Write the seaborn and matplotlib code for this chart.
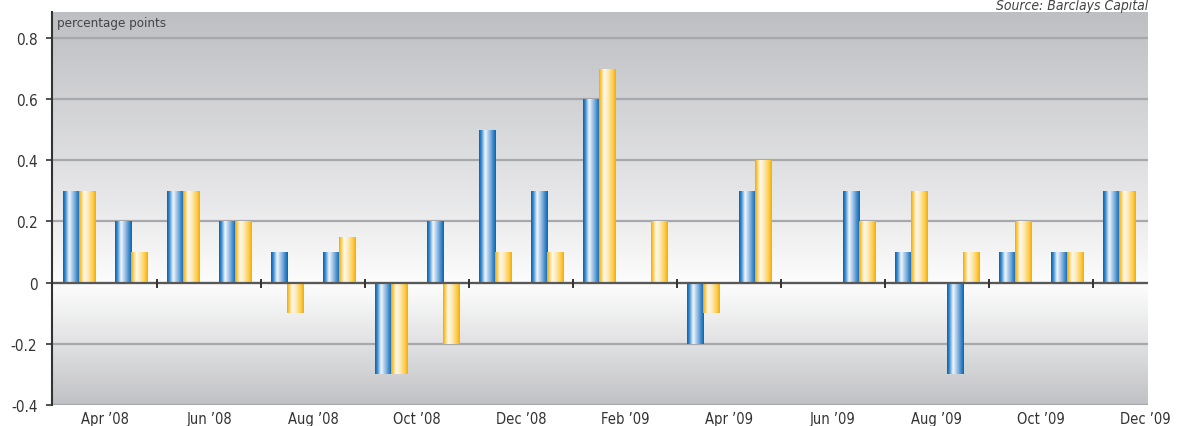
import numpy as np
import pandas as pd
import matplotlib
matplotlib.use("Agg")
import matplotlib.pyplot as plt
from matplotlib.colors import LinearSegmentedColormap, to_rgb
import seaborn as sns

# ---------------- data ----------------
months = ["Apr ’08", "May ’08", "Jun ’08", "Jul ’08", "Aug ’08", "Sep ’08",
          "Oct ’08", "Nov ’08", "Dec ’08", "Jan ’09", "Feb ’09", "Mar ’09",
          "Apr ’09", "May ’09", "Jun ’09", "Jul ’09", "Aug ’09", "Sep ’09",
          "Oct ’09", "Nov ’09", "Dec ’09"]
blue_values = [0.3, 0.2, 0.3, 0.2, 0.1, 0.1, -0.3, 0.2, 0.5, 0.3, 0.6, 0.0,
               -0.2, 0.3, 0.0, 0.3, 0.1, -0.3, 0.1, 0.1, 0.3]
yellow_values = [0.3, 0.1, 0.3, 0.2, -0.1, 0.15, -0.3, -0.2, 0.1, 0.1, 0.7, 0.2,
                 -0.1, 0.4, 0.0, 0.2, 0.3, 0.1, 0.2, 0.1, 0.3]
series_names = ["blue", "yellow"]
tick_labels = months[::2]
y_ticks = [-0.4, -0.2, 0.0, 0.2, 0.4, 0.6, 0.8]
y_tick_labels = ["-0.4", "-0.2", "0", "0.2", "0.4", "0.6", "0.8"]

df = pd.DataFrame({
    "month": months * 2,
    "value": blue_values + yellow_values,
    "series": [series_names[0]] * len(months) + [series_names[1]] * len(months),
})

# ---------------- style ----------------
sns.set_theme(style="white")
plt.rcParams["font.family"] = ["DejaVu Sans"]
plt.rcParams["font.stretch"] = "condensed"

W, H = 1187, 427
fig = plt.figure(figsize=(W / 100, H / 100), dpi=100)
ax = fig.add_axes([52 / W, 1 - 406 / H, (1148 - 52) / W, (406 - 13) / H])

YMIN, YMAX = -0.4, 0.885
XMIN, XMAX = -0.52, len(months) - 1 + 0.56

# background gradient (white at zero, grey towards top and bottom)
yy = np.linspace(YMAX, YMIN, 400)
top_c = np.array(to_rgb("#bebfc3"))
bot_c = np.array(to_rgb("#c0c1c5"))
white = np.array(to_rgb("#fdfdfd"))
bg = np.zeros((len(yy), 1, 3))
for k, v in enumerate(yy):
    if v >= 0:
        t = (v / YMAX) ** 0.9
        bg[k, 0] = white * (1 - t) + top_c * t
    else:
        t = (v / YMIN) ** 1.1
        bg[k, 0] = white * (1 - t) + bot_c * t
ax.imshow(bg, extent=[XMIN, XMAX, YMIN, YMAX], aspect="auto", zorder=0,
          interpolation="bilinear")

palette = {"blue": "#1570b8", "yellow": "#f9b80f"}
sns.barplot(data=df, x="month", y="value", hue="series", order=months,
            hue_order=series_names, palette=palette, width=0.62, dodge=True,
            errorbar=None, legend=False, ax=ax, linewidth=0, saturation=1)

# gradient fills for bars
blue_cmap = LinearSegmentedColormap.from_list(
    "bg", [(0.0, "#0a62ab"), (0.12, "#2f86cc"), (0.36, "#f3f7fc"),
           (0.65, "#8ab6e0"), (0.88, "#2c7fc5"), (1.0, "#0c64ad")])
yel_cmap = LinearSegmentedColormap.from_list(
    "yg", [(0.0, "#f2a900"), (0.1, "#fcc640"), (0.3, "#fffaf0"),
           (0.6, "#fde5a0"), (0.88, "#fcc431"), (1.0, "#f3ac00")])
grad = np.linspace(0, 1, 64)[None, :]
for patch in ax.patches:
    h = patch.get_height()
    if h == 0 or np.isnan(h):
        continue
    x0 = patch.get_x()
    w = patch.get_width()
    y0 = patch.get_y()
    c = patch.get_facecolor()
    cmap = blue_cmap if c[2] > c[0] else yel_cmap
    im = ax.imshow(grad, cmap=cmap, extent=[x0, x0 + w, min(y0, y0 + h), max(y0, y0 + h)],
                   aspect="auto", interpolation="bilinear", zorder=1.5)
    im.set_clip_path(patch)

# grid, zero line, ticks on zero line
ax.set_axisbelow(True)
ax.yaxis.grid(True, color="#a7a8ab", linewidth=1.6)
ax.xaxis.grid(False)
ax.axhline(0, color="#585858", linewidth=1.6, zorder=3)
zero_ticks = np.arange(1.5, len(months) - 1, 2)
ax.vlines(zero_ticks, -0.018, 0.012, color="#333333", linewidth=1.4, zorder=3)

ax.set_xlim(XMIN, XMAX)
ax.set_ylim(YMIN, YMAX)
ax.set_xticks(np.arange(0, len(months), 2) + 0.5, tick_labels)
ax.set_yticks(y_ticks, y_tick_labels)
ax.tick_params(axis="x", length=0, pad=4, labelsize=10.5, labelcolor="#333333")
ax.tick_params(axis="y", left=True, length=4, width=1.2, color="#333333",
               direction="out", pad=6.5, labelsize=11, labelcolor="#333333")
ax.set_xlabel("")
ax.set_ylabel("")
for s in ["top", "right", "bottom"]:
    ax.spines[s].set_visible(False)
ax.spines["left"].set_color("#333333")
ax.spines["left"].set_linewidth(1.5)
ax.spines["left"].set_zorder(4)

ax.text(0.005, 0.99, "percentage points", transform=ax.transAxes, ha="left",
        va="top", fontsize=9.5, color="#444444")
fig.text(1148 / W, 1 - 10 / H, "Source: Barclays Capital", ha="right",
         va="baseline", fontsize=10, style="italic", color="#444444")

fig.savefig("out.png", dpi=100)
